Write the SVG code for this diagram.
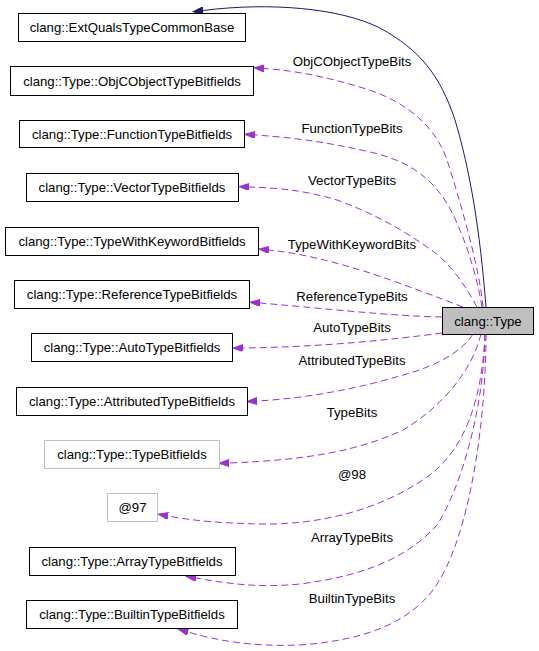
<svg xmlns="http://www.w3.org/2000/svg" width="539" height="651" viewBox="0 0 539 651">
<style>
.box{fill:#ffffff;stroke:#000000;stroke-width:1}
.gbox{fill:#ffffff;stroke:#bfbfbf;stroke-width:1}
.main{fill:#bfbfbf;stroke:#000000;stroke-width:1}
text{font-family:"Liberation Sans",Helvetica,Arial,sans-serif;font-size:13.2px;fill:#000000;text-anchor:middle}
.e{fill:none;stroke:#9a32cd;stroke-width:1;stroke-dasharray:7,4}
.n{fill:none;stroke:#191970;stroke-width:1}
</style>
<defs>
<marker id="ap" markerUnits="userSpaceOnUse" markerWidth="11" markerHeight="8" refX="0" refY="3.5" orient="auto" viewBox="0 0 11 8">
<path d="M0,0 L10,3.5 L0,7 Z" fill="#9a32cd" stroke="#9a32cd"/>
</marker>
<marker id="an" markerUnits="userSpaceOnUse" markerWidth="11" markerHeight="8" refX="0" refY="3.5" orient="auto" viewBox="0 0 11 8">
<path d="M0,0 L10,3.5 L0,7 Z" fill="#191970" stroke="#191970"/>
</marker>
</defs>
<rect width="539" height="651" fill="#ffffff"/>
<g id="edges">
<path class="n" marker-end="url(#an)" d="M486,307 C480,230 470,170 455,120 C440,75 420,50 380,28 C340,8 270,2 203,10.5"/>
<path class="e" marker-end="url(#ap)" d="M483,307 C480,270 460,200 447,160 C437,130 410,102 363,88 C330,78 300,71 264,68.5"/>
<path class="e" marker-end="url(#ap)" d="M482,307 C476,270 462,230 448,205 C430,175 405,160 370,152 C330,143 300,138 255,135"/>
<path class="e" marker-end="url(#ap)" d="M477,307 C465,285 450,262 427,247 C400,228 370,212 337,200 C310,192 285,188 249,187"/>
<path class="e" marker-end="url(#ap)" d="M463,307 C440,298 400,283 370,273 C335,262 300,253 269,250"/>
<path class="e" marker-end="url(#ap)" d="M442,317 C390,316 320,308 260,303"/>
<path class="e" marker-end="url(#ap)" d="M442,333 C390,340 320,347 243,348"/>
<path class="e" marker-end="url(#ap)" d="M473,334 C463,350 440,365 403,375 C360,388 310,398 257,401"/>
<path class="e" marker-end="url(#ap)" d="M481,334 C472,372 440,408 403,430 C360,450 310,460 229,463"/>
<path class="e" marker-end="url(#ap)" d="M485,334 C482,400 465,450 427,477 C380,510 320,525 260,524 C220,523 195,521 168,516"/>
<path class="e" marker-end="url(#ap)" d="M485,334 C484,410 460,490 437,525 C410,555 370,575 300,584 C260,588 230,584 196,578"/>
<path class="e" marker-end="url(#ap)" d="M486,334 C486,420 470,540 433,590 C410,620 370,640 300,645 C250,647 215,640 188,632"/>
<text x="352" y="65.5">ObjCObjectTypeBits</text>
<text x="352" y="133">FunctionTypeBits</text>
<text x="352" y="185">VectorTypeBits</text>
<text x="352" y="249">TypeWithKeywordBits</text>
<text x="352" y="300.5">ReferenceTypeBits</text>
<text x="352" y="332">AutoTypeBits</text>
<text x="352" y="365">AttributedTypeBits</text>
<text x="352" y="417">TypeBits</text>
<text x="352" y="479">@98</text>
<text x="352" y="541.5">ArrayTypeBits</text>
<text x="352" y="602.5">BuiltinTypeBits</text>
</g>
<g id="node-ExtQualsTypeCommonBase"><rect class="box" x="18.5" y="13.5" width="227" height="28"/><text x="132" y="32">clang::ExtQualsTypeCommonBase</text></g>
<g id="node-ObjCObjectTypeBitfields"><rect class="box" x="10.5" y="66.5" width="243" height="29"/><text x="132" y="85.5">clang::Type::ObjCObjectTypeBitfields</text></g>
<g id="node-FunctionTypeBitfields"><rect class="box" x="19.5" y="120.5" width="225" height="27"/><text x="132" y="138.5">clang::Type::FunctionTypeBitfields</text></g>
<g id="node-VectorTypeBitfields"><rect class="box" x="26.5" y="173.5" width="212" height="28"/><text x="132" y="192">clang::Type::VectorTypeBitfields</text></g>
<g id="node-TypeWithKeywordBitfields"><rect class="box" x="5.5" y="227.5" width="253" height="28"/><text x="132" y="246">clang::Type::TypeWithKeywordBitfields</text></g>
<g id="node-ReferenceTypeBitfields"><rect class="box" x="14.5" y="280.5" width="235" height="28"/><text x="132" y="299">clang::Type::ReferenceTypeBitfields</text></g>
<g id="node-Type"><rect class="main" x="442.5" y="307.5" width="91" height="27"/><text x="488" y="325.5">clang::Type</text></g>
<g id="node-AutoTypeBitfields"><rect class="box" x="31.5" y="333.5" width="201" height="28"/><text x="132" y="352">clang::Type::AutoTypeBitfields</text></g>
<g id="node-AttributedTypeBitfields"><rect class="box" x="16.5" y="387.5" width="231" height="28"/><text x="132" y="406">clang::Type::AttributedTypeBitfields</text></g>
<g id="node-TypeBitfields"><rect class="gbox" x="44.5" y="440.5" width="175" height="28"/><text x="132" y="459">clang::Type::TypeBitfields</text></g>
<g id="node-97"><rect class="gbox" x="107.5" y="493.5" width="50" height="28"/><text x="132.5" y="512">@97</text></g>
<g id="node-ArrayTypeBitfields"><rect class="box" x="29.5" y="547.5" width="206" height="28"/><text x="132" y="566">clang::Type::ArrayTypeBitfields</text></g>
<g id="node-BuiltinTypeBitfields"><rect class="box" x="26.5" y="600.5" width="211" height="28"/><text x="132" y="619">clang::Type::BuiltinTypeBitfields</text></g>
</svg>
